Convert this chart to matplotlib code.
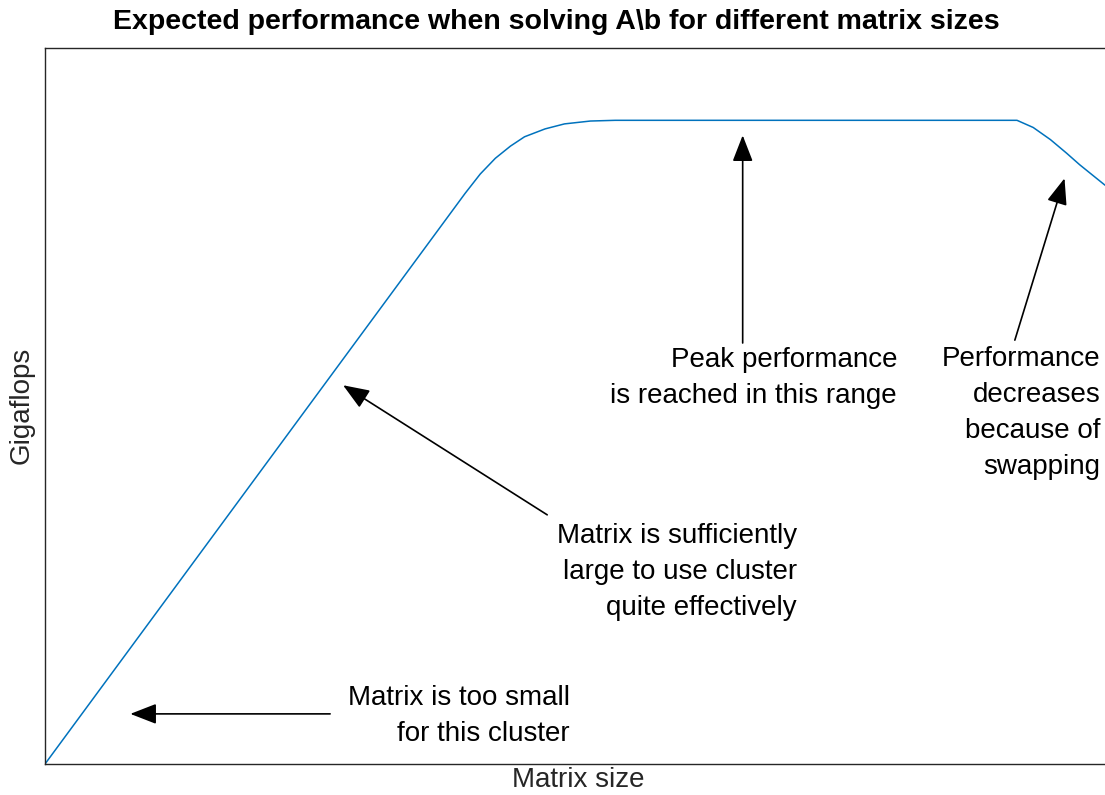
import numpy as np
import matplotlib
matplotlib.use('Agg')
import matplotlib.pyplot as plt

# Curve (arbitrary units, axes span 0..100 both ways)
size = [0, 38.9, 40.3, 41.7, 43.1, 44.4, 46.3, 48.1, 50.5, 52.8,
        90.0, 91.5, 93.1, 94.6, 95.8, 98.1, 100]
gflops = [0, 79.7, 82.4, 84.6, 86.3, 87.6, 88.7, 89.4, 89.8, 89.9,
          89.9, 88.9, 87.2, 85.3, 83.7, 80.9, 79.0]

# Annotations: text, text anchor (right edge, centre), arrow tail, arrow head
notes = ["Matrix is too small\nfor this cluster",
         "Matrix is sufficiently\nlarge to use cluster\nquite effectively",
         "Peak performance\nis reached in this range",
         "Performance\ndecreases\nbecause of\nswapping"]
text_pos = [(48.6, 6.7), (69.6, 26.8), (78.9, 53.9), (97.7, 49.0)]
tails = [(26.4, 7.0), (46.5, 34.8), (64.6, 58.8), (89.8, 59.2)]
heads = [(7.9, 7.0), (27.6, 52.9), (64.6, 87.8), (94.4, 81.8)]

plt.rcParams['font.family'] = ['Liberation Sans', 'DejaVu Sans']

W, H = 1105, 795
fig = plt.figure(figsize=(W / 100, H / 100), dpi=100)
# axes run past the right edge of the picture, like the cropped original
ax = fig.add_axes([45 / W, (H - 764) / H, 1080 / W, 716 / H])

ax.plot(size, gflops, color='#0072BD', lw=1.1)
ax.set_xlim(0, 100)
ax.set_ylim(0, 100)
ax.set_xticks([])
ax.set_yticks([])
for s in ax.spines.values():
    s.set_color('#262626')
    s.set_linewidth(1.0)

ax.set_xlabel('Matrix size', fontsize=20, color='#262626')
ax.xaxis.set_label_coords((578 - 45) / 1080, -0.004, transform=ax.transAxes)
ax.xaxis.label.set_va('top')
ax.set_ylabel('Gigaflops', fontsize=20, color='#262626')
ax.yaxis.set_label_coords(-0.01, (764 - 405) / 716)

fig.text(556 / W, 1 - 22 / H, r'Expected performance when solving A\b for different matrix sizes',
         ha='center', va='center', fontsize=20.5, fontweight='bold')

for txt, tp, t, h in zip(notes, text_pos, tails, heads):
    ax.annotate('', xy=h, xytext=t,
                arrowprops=dict(arrowstyle='-|>,head_length=0.9,head_width=0.35',
                                color='black', lw=1.2, mutation_scale=18,
                                shrinkA=0, shrinkB=0))
    ax.text(tp[0], tp[1], txt, ha='right', va='center', fontsize=20,
            linespacing=1.5, multialignment='right')

fig.savefig('out.png', dpi=100)
